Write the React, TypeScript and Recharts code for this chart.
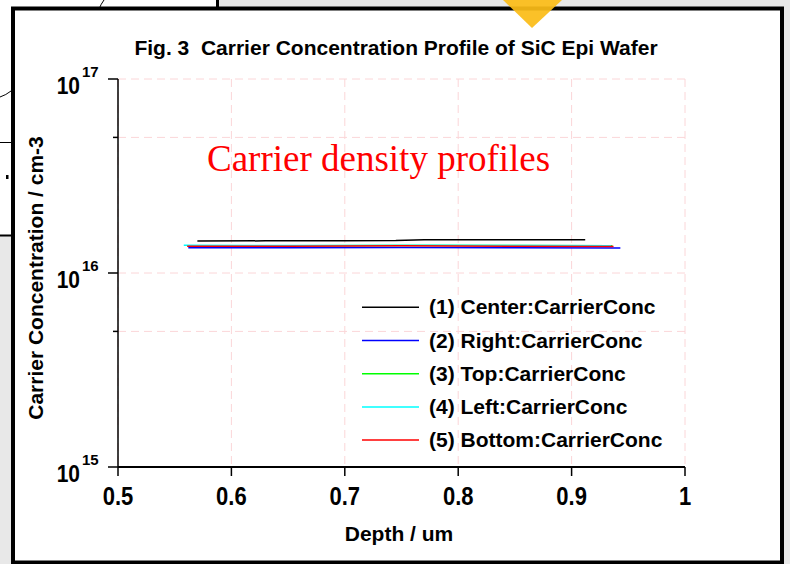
import React from 'react';
import { LineChart, Line, XAxis, YAxis, CartesianGrid } from 'recharts';

const xTicks = [0.5, 0.6, 0.7, 0.8, 0.9, 1];
const xMinorTicks = [0.55, 0.65, 0.75, 0.85, 0.95];
const yTicks = [1e15, 5e15, 1e16, 5e16, 1e17];

const centerDepth = [0.57, 0.63, 0.7, 0.745, 0.77, 0.84, 0.912];
const centerConc = [1.46e16, 1.465e16, 1.465e16, 1.47e16, 1.485e16, 1.485e16, 1.485e16];

const rightDepth = [0.562, 0.65, 0.75, 0.85, 0.943];
const rightConc = [1.35e16, 1.35e16, 1.355e16, 1.35e16, 1.345e16];

const topDepth = [0.561, 0.65, 0.75, 0.85, 0.936];
const topConc = [1.38e16, 1.38e16, 1.385e16, 1.385e16, 1.38e16];

const leftDepth = [0.558, 0.62, 0.7, 0.78, 0.86, 0.935];
const leftConc = [1.39e16, 1.385e16, 1.385e16, 1.39e16, 1.385e16, 1.38e16];

const bottomDepth = [0.561, 0.65, 0.75, 0.85, 0.937];
const bottomConc = [1.375e16, 1.375e16, 1.38e16, 1.375e16, 1.37e16];

const seriesNames = [
  '(1) Center:CarrierConc',
  '(2) Right:CarrierConc',
  '(3) Top:CarrierConc',
  '(4) Left:CarrierConc',
  '(5) Bottom:CarrierConc',
];
const seriesColors = ['#000000', '#0000ff', '#00ff00', '#00ffff', '#ff0000'];

const toPoints = (xs: number[], ys: number[]) => xs.map((x, i) => ({ x, y: ys[i] }));
const seriesData = [
  toPoints(centerDepth, centerConc),
  toPoints(rightDepth, rightConc),
  toPoints(topDepth, topConc),
  toPoints(leftDepth, leftConc),
  toPoints(bottomDepth, bottomConc),
];

const FONT = '"Liberation Sans", Arial, sans-serif';

const YTick = (props: any) => {
  const { x, y, payload } = props;
  const v = payload.value;
  const lg = Math.log10(v);
  const exp = Math.round(lg);
  const major = Math.abs(lg - exp) < 1e-6;
  return (
    <g>
      <line x1={x - (major ? 10 : 5)} x2={x} y1={y} y2={y} stroke="#000" strokeWidth={1.5} />
      {major && (
        <g transform={`translate(${x - 38},${y + 14.5}) scale(1,1.13)`}>
          <text x={0} y={0} textAnchor="end" fontFamily={FONT} fontWeight="bold" fontSize={21} fill="#000">
            10
          </text>
        </g>
      )}
      {major && (
        <text x={x - 36} y={y - 2.5} textAnchor="start" fontFamily={FONT} fontWeight="bold" fontSize={15} fill="#000">
          {exp}
        </text>
      )}
    </g>
  );
};

const XTick = (props: any) => {
  const { x, y, payload } = props;
  return (
    <g>
      <line x1={x} x2={x} y1={y} y2={y + 9} stroke="#000" strokeWidth={1.5} />
      <g transform={`translate(${x},${y + 38}) scale(1,1.13)`}>
        <text x={0} y={0} textAnchor="middle" fontFamily={FONT} fontWeight="bold" fontSize={22} fill="#000">
          {String(payload.value)}
        </text>
      </g>
    </g>
  );
};

const XMinorTick = (props: any) => {
  const { x, y } = props;
  return <line x1={x} x2={x} y1={y} y2={y + 5} stroke="#000" strokeWidth={1.5} />;
};

export default function App() {
  return (
    <div style={{ position: 'fixed', left: 0, top: 0, width: 790, height: 564, overflow: 'hidden', background: '#e8e8e8' }}>
      <svg width={790} height={564} style={{ position: 'absolute', left: 0, top: 0 }}>
        <rect x={0} y={0} width={217} height={10} fill="#ffffff" />
        <rect x={0} y={0} width={12} height={236} fill="#ffffff" />
        <line x1={217.5} x2={217.5} y1={0} y2={10} stroke="#000" strokeWidth={3} />
        <path d="M 99 9 Q 101 4 104 0" stroke="#000" strokeWidth={1} fill="none" />
        <path d="M 0 97 Q 6 95 11 91" stroke="#000" strokeWidth={1} fill="none" />
        <line x1={0} x2={12} y1={142.5} y2={142.5} stroke="#000" strokeWidth={1} />
        <rect x={6} y={175} width={2.5} height={4} fill="#000" />
        <line x1={0} x2={12} y1={235.5} y2={235.5} stroke="#000" strokeWidth={2} />
        <rect x={13} y={8.5} width={769} height={554} fill="#ffffff" stroke="#000" strokeWidth={4} />
      </svg>
      <div style={{ position: 'absolute', left: 0, top: 0 }}>
        <LineChart width={790} height={564} margin={{ top: 79, right: 105, bottom: 67, left: 0 }}>
          <CartesianGrid stroke="#fbd6d8" strokeDasharray="8 5" strokeWidth={1} horizontal={true} vertical={true} />
          <XAxis
            xAxisId="minor"
            dataKey="x"
            type="number"
            domain={[0.5, 1]}
            ticks={xMinorTicks}
            allowDataOverflow
            axisLine={false}
            tickLine={false}
            tickSize={0}
            tickMargin={0}
            height={0}
            tick={<XMinorTick />}
            interval={0}
          />
          <XAxis
            dataKey="x"
            type="number"
            domain={[0.5, 1]}
            ticks={xTicks}
            allowDataOverflow
            axisLine={{ stroke: '#000', strokeWidth: 2 }}
            tickLine={false}
            tickSize={0}
            tickMargin={0}
            height={30}
            tick={<XTick />}
            interval={0}
          />
          <YAxis
            dataKey="y"
            scale="log"
            type="number"
            domain={[1e15, 1e17]}
            ticks={yTicks}
            allowDataOverflow
            axisLine={{ stroke: '#000', strokeWidth: 1.5 }}
            tickLine={false}
            tickSize={0}
            tickMargin={0}
            width={118}
            tick={<YTick />}
            interval={0}
          />
          {seriesData.map((d, i) => (
            <Line
              key={seriesNames[i]}
              data={d}
              dataKey="y"
              name={seriesNames[i]}
              stroke={seriesColors[i]}
              strokeWidth={1.5}
              dot={false}
              isAnimationActive={false}
              type="linear"
            />
          ))}
        </LineChart>
      </div>
      <svg width={790} height={564} style={{ position: 'absolute', left: 0, top: 0, pointerEvents: 'none' }}>
        <text
          x={396}
          y={55}
          textAnchor="middle"
          fontFamily={FONT}
          fontWeight="bold"
          fontSize={21}
          fill="#000"
          style={{ whiteSpace: 'pre' }}
        >
          {'Fig. 3  Carrier Concentration Profile of SiC Epi Wafer'}
        </text>
        <text x={207} y={171} fontFamily={'"Liberation Serif", "Times New Roman", serif'} fontSize={37} fill="#ff0000">
          Carrier density profiles
        </text>
        <text
          x={43}
          y={278}
          transform="rotate(-90 43 278)"
          textAnchor="middle"
          fontFamily={FONT}
          fontWeight="bold"
          fontSize={21}
          fill="#000"
        >
          Carrier Concentration / cm-3
        </text>
        <text x={399} y={541} textAnchor="middle" fontFamily={FONT} fontWeight="bold" fontSize={21} fill="#000">
          Depth / um
        </text>
        {seriesNames.map((name, i) => {
          const cy = 307.3 + 33.2 * i;
          return (
            <g key={name}>
              <line x1={362} x2={419} y1={cy} y2={cy} stroke={seriesColors[i]} strokeWidth={1.5} />
              <text x={429} y={cy + 7} fontFamily={FONT} fontWeight="bold" fontSize={21} fill="#000">
                {name}
              </text>
            </g>
          );
        })}
        <polygon points="503,0 562,0 532,28" fill="#fbbc18" opacity={0.93} />
      </svg>
    </div>
  );
}
